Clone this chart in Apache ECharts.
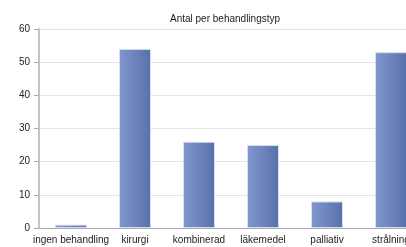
<!DOCTYPE html>
<html>
<head>
<meta charset="utf-8">
<script src="https://cdn.jsdelivr.net/npm/echarts@6/dist/echarts.min.js"></script>
<style>
  html, body { margin: 0; padding: 0; background: #fff; }
  #chart { width: 406px; height: 247px; }
</style>
</head>
<body>
<div id="chart"></div>
<script>
// data
const categories = ['ingen behandling', 'kirurgi', 'kombinerad', 'läkemedel', 'palliativ', 'strålning']
const counts = [1, 54, 26, 25, 8, 53]
const yTicks = { min: 0, max: 60, interval: 10 }

const chart = echarts.init(document.getElementById('chart'))
chart.setOption({
  animation: false,
  textStyle: { fontFamily: 'Liberation Sans, Arial, sans-serif' },
  title: {
    text: 'Antal per behandlingstyp',
    left: 220, top: 9,
    textAlign: 'center',
    textStyle: { fontSize: 10, fontWeight: 'normal', color: '#222' }
  },
  grid: { left: 39, top: 29, bottom: 19, width: 384, outerBoundsMode: 'none', containLabel: false },
  xAxis: {
    type: 'category', data: categories,
    axisLine: { lineStyle: { color: '#aaa' } },
    axisTick: { alignWithLabel: true, length: 5, lineStyle: { color: '#aaa' } },
    axisLabel: { color: '#222', fontSize: 10, margin: 7, interval: 0, hideOverlap: false }
  },
  yAxis: {
    type: 'value', min: yTicks.min, max: yTicks.max, interval: yTicks.interval,
    axisLine: { show: true, lineStyle: { color: '#c4c4c4', width: 2 } },
    axisTick: { show: true, length: 5, lineStyle: { color: '#aaa' } },
    axisLabel: { color: '#222', fontSize: 10, margin: 9 },
    splitLine: { lineStyle: { color: '#e4e4e4' } }
  },
  series: [{
    type: 'bar', data: counts,
    barWidth: 32,
    itemStyle: {
      color: new echarts.graphic.LinearGradient(0, 0, 1, 0, [
        { offset: 0, color: '#8197cf' },
        { offset: 1, color: '#5870aa' }
      ]),
      borderColor: '#d6ddf0', borderWidth: 1
    }
  }]
})
</script>
</body>
</html>
